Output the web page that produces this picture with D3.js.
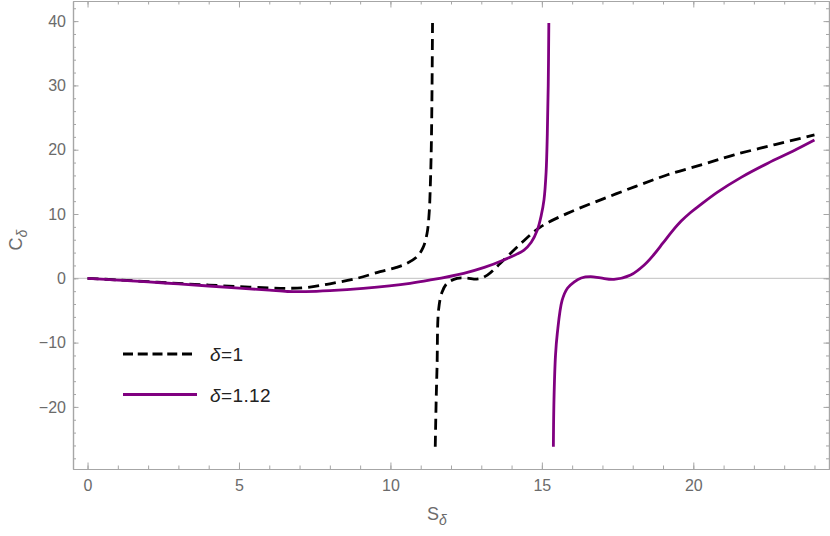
<!DOCTYPE html>
<html>
<head>
<meta charset="utf-8">
<script src="https://cdn.jsdelivr.net/npm/d3@7"></script>
<style>
  body { margin: 0; background: #fff; }
  svg { display: block; font-family: "Liberation Sans", Arial, sans-serif; }
</style>
</head>
<body>
<div id="chart"></div>
<script>
// delta = 1 (dashed black), two branches split at the pole near S = 11.4
const delta1Left = [
    [0, 0], [1, -0.25], [2, -0.52], [3, -0.8], [4, -1.05], [5, -1.3], [6, -1.5],
    [6.6, -1.55], [7.2, -1.45], [8, -0.85], [8.9, 0], [9.66, 1.03], [10.2, 1.7],
    [10.55, 2.33], [10.88, 3.36], [11.08, 4.8], [11.21, 7.0], [11.28, 10.2],
    [11.32, 14.8], [11.35, 20.5], [11.37, 27.7], [11.39, 39.7]
];
const delta1Right = [
    [11.48, -26.2], [11.51, -19], [11.54, -13.7], [11.59, -4.9], [11.7, -2.2],
    [11.87, -0.78], [12.2, 0], [12.5, 0.05], [12.9, -0.1], [13.2, 0.5],
    [13.63, 2.33], [14.3, 5.4], [14.96, 8.0], [15.84, 10.1], [16.94, 12.2],
    [18.1, 14.3], [19.15, 16.1], [20.3, 17.7], [21.35, 19.2], [22.7, 20.8], [24, 22.3]
];

// delta = 1.12 (solid purple), pole near S = 15.3
const delta112Left = [
    [0, 0], [1, -0.27], [2, -0.56], [3, -0.88], [4, -1.2], [5, -1.52], [6, -1.85],
    [6.6, -2.05], [7.2, -2.08], [8, -1.93], [9.1, -1.56], [10.65, -0.78],
    [11.32, -0.26], [12.42, 0.78], [13.1, 1.7], [13.74, 2.85], [14.41, 4.4],
    [14.65, 5.6], [14.85, 7.5], [14.98, 9.8], [15.07, 12.2], [15.14, 16.5],
    [15.18, 22.5], [15.21, 30], [15.23, 39.7]
];
const delta112Right = [
    [15.38, -26.2], [15.40, -18.9], [15.45, -12], [15.51, -8.55], [15.67, -3.4],
    [15.85, -1.5], [16.06, -0.6], [16.3, 0.05], [16.61, 0.25], [16.94, 0.05],
    [17.38, -0.16], [17.93, 0.5], [18.38, 2.07], [18.7, 3.7], [19.0, 5.5],
    [19.3, 7.3], [19.6, 8.9], [19.9, 10.2], [20.2, 11.3], [20.8, 13.4],
    [21.58, 15.7], [22.46, 17.9], [23.3, 19.8], [24, 21.5]
];

const xMajor = [0, 5, 10, 15, 20];
const xMinor = d3.range(0, 25, 1);
const yMajor = [-20, -10, 0, 10, 20, 30, 40];
const yMinor = d3.range(-28, 44, 2);

const legendLabels = ["δ=1", "δ=1.12"];

// Dimensions (frame box inside the 830x536 window)
const W = 830, H = 536;
const frame = { left: 73, right: 829, top: 1, bottom: 469 };

const svg = d3.select("#chart")
    .append("svg")
    .attr("width", W)
    .attr("height", H);

const x = d3.scaleLinear().domain([-0.48, 24.48]).range([frame.left, frame.right]);
const y = d3.scaleLinear().domain([-29.66, 43.13]).range([frame.bottom, frame.top]);

const frameColor = "#a6a6a6";
const labelColor = "#6b6b6b";
const purple = "#800080";

// zero line
svg.append("line")
    .attr("x1", frame.left).attr("x2", frame.right)
    .attr("y1", y(0)).attr("y2", y(0))
    .attr("stroke", "#c0c0c0")
    .attr("stroke-width", 1);

// Frame ticks, all pointing inward
function styleAxis(g) {
    g.select(".domain").attr("stroke", frameColor).attr("stroke-width", 1.2);
    g.selectAll(".tick line").attr("stroke", frameColor);
    g.selectAll("text")
        .attr("fill", labelColor)
        .style("font-size", "16px")
        .style("font-family", "'Liberation Sans', Arial, sans-serif");
}
const fmt = d => d < 0 ? "\u2212" + (-d) : String(d);

svg.append("g")
    .attr("transform", `translate(0,${frame.bottom})`)
    .call(d3.axisBottom(x).tickValues(xMinor).tickSize(-3.5).tickSizeOuter(0).tickFormat(""))
    .call(styleAxis);
svg.append("g")
    .attr("transform", `translate(0,${frame.bottom})`)
    .call(d3.axisBottom(x).tickValues(xMajor).tickSize(-6.5).tickSizeOuter(0).tickPadding(11).tickFormat(fmt))
    .call(styleAxis);

svg.append("g")
    .attr("transform", `translate(0,${frame.top})`)
    .call(d3.axisTop(x).tickValues(xMinor).tickSize(-3.5).tickSizeOuter(0).tickFormat(""))
    .call(styleAxis);
svg.append("g")
    .attr("transform", `translate(0,${frame.top})`)
    .call(d3.axisTop(x).tickValues(xMajor).tickSize(-6.5).tickSizeOuter(0).tickFormat(""))
    .call(styleAxis);

svg.append("g")
    .attr("transform", `translate(${frame.left},0)`)
    .call(d3.axisLeft(y).tickValues(yMinor).tickSize(-3).tickSizeOuter(0).tickFormat(""))
    .call(styleAxis);
svg.append("g")
    .attr("transform", `translate(${frame.left},0)`)
    .call(d3.axisLeft(y).tickValues(yMajor).tickSize(-5.5).tickSizeOuter(0).tickPadding(7).tickFormat(fmt))
    .call(styleAxis);

svg.append("g")
    .attr("transform", `translate(${frame.right},0)`)
    .call(d3.axisRight(y).tickValues(yMinor).tickSize(-3).tickSizeOuter(0).tickFormat(""))
    .call(styleAxis);
svg.append("g")
    .attr("transform", `translate(${frame.right},0)`)
    .call(d3.axisRight(y).tickValues(yMajor).tickSize(-5.5).tickSizeOuter(0).tickFormat(""))
    .call(styleAxis);

// curves
const line = d3.line()
    .x(d => x(d[0]))
    .y(d => y(d[1]))
    .curve(d3.curveCatmullRom.alpha(0.5));

const series = [
    { data: delta1Left, color: "#000", dash: "11,6" },
    { data: delta1Right, color: "#000", dash: "11,6" },
    { data: delta112Left, color: purple, dash: null },
    { data: delta112Right, color: purple, dash: null }
];

svg.append("g")
    .selectAll("path")
    .data(series)
    .enter()
    .append("path")
    .attr("d", d => line(d.data))
    .attr("fill", "none")
    .attr("stroke", d => d.color)
    .attr("stroke-width", 2.8)
    .attr("stroke-dasharray", d => d.dash);

// axis labels
const yLab = svg.append("text")
    .attr("transform", "translate(22,240) rotate(-90)")
    .attr("text-anchor", "middle")
    .attr("fill", labelColor)
    .style("font-size", "18px");
yLab.append("tspan").text("C");
yLab.append("tspan").attr("dy", 5).style("font-size", "14px").style("font-style", "italic").text("δ");

const xLab = svg.append("text")
    .attr("x", 437)
    .attr("y", 520)
    .attr("text-anchor", "middle")
    .attr("fill", labelColor)
    .style("font-size", "18px");
xLab.append("tspan").text("S");
xLab.append("tspan").attr("dy", 5).style("font-size", "14px").style("font-style", "italic").text("δ");

// legend
const legend = svg.append("g");
const legendRows = [
    { label: legendLabels[0], color: "#000", dash: "10,4.75", y: 354, x2: 192 },
    { label: legendLabels[1], color: purple, dash: null, y: 394.5, x2: 197 }
];
legendRows.forEach(r => {
    legend.append("line")
        .attr("x1", 123).attr("x2", r.x2)
        .attr("y1", r.y).attr("y2", r.y)
        .attr("stroke", r.color)
        .attr("stroke-width", 2.8)
        .attr("stroke-dasharray", r.dash);
    const t = legend.append("text")
        .attr("x", 210)
        .attr("y", r.y + 7)
        .attr("fill", "#222")
        .style("font-size", "19px")
        .style("letter-spacing", "0.4px");
    t.append("tspan").style("font-style", "italic").text(r.label.slice(0, 1));
    t.append("tspan").text(r.label.slice(1));
});
</script>
</body>
</html>
